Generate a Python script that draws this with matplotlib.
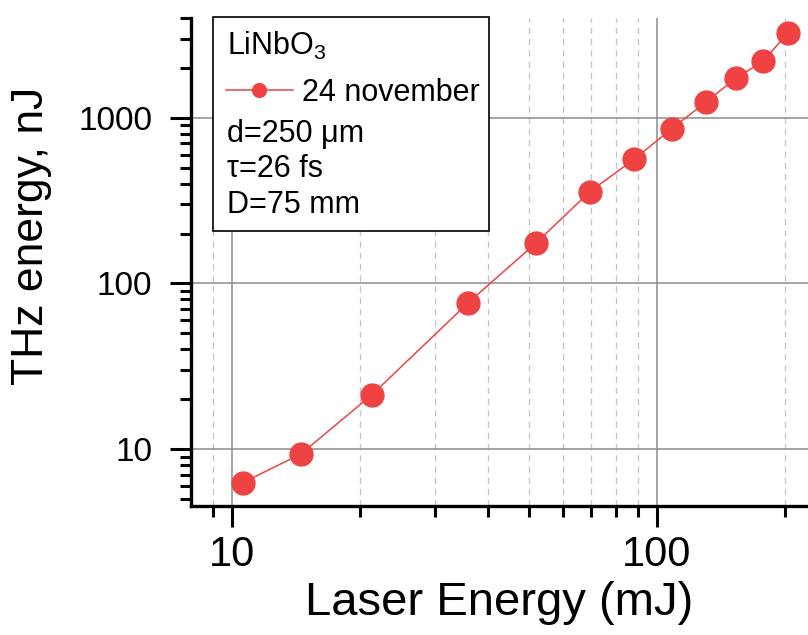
import numpy as np
import matplotlib
matplotlib.use("Agg")
import matplotlib.pyplot as plt
from matplotlib.ticker import FixedLocator, NullFormatter

plt.rcParams['font.family'] = ['Liberation Sans', 'DejaVu Sans']
plt.rcParams['mathtext.fontset'] = 'custom'
plt.rcParams['mathtext.rm'] = 'Liberation Sans'

# data
laser_mj = [10.6, 14.5, 21.3, 35.9, 52.0, 69.5, 88.3, 108.3, 130.2, 153.2, 177.7, 203.5]
thz_nj = [6.27, 9.33, 21.2, 76.2, 176, 358, 561, 858, 1241, 1726, 2194, 3254]

x_major = [10, 100]
x_minor = [9, 20, 30, 40, 50, 60, 70, 80, 90, 200]
y_major = [10, 100, 1000]
y_minor = [5, 6, 7, 8, 9, 20, 30, 40, 50, 60, 70, 80, 90,
           200, 300, 400, 500, 600, 700, 800, 900, 2000, 3000, 4000]

info_lines = ['d=250 \u03bcm', '\u03c4=26 fs', 'D=75 mm']

red = '#EF4343'

fig = plt.figure(figsize=(8.08, 6.35), dpi=100)
ax = fig.add_axes([0.2364, 0.2031, 0.7636, 0.7685])

ax.set_xscale('log')
ax.set_yscale('log')
ax.set_xlim(8.0, 226.8)
ax.set_ylim(4.53, 4000)

line, = ax.plot(laser_mj, thz_nj, color=red, lw=1.1, marker='o', ms=16.5,
                mec=red, mfc=red, zorder=3, label='24 november')

ax.xaxis.set_major_locator(FixedLocator(x_major))
ax.xaxis.set_minor_locator(FixedLocator(x_minor))
ax.yaxis.set_major_locator(FixedLocator(y_major))
ax.yaxis.set_minor_locator(FixedLocator(y_minor))
ax.set_xticklabels([str(v) for v in x_major])
ax.set_yticklabels([str(v) for v in y_major])
ax.xaxis.set_minor_formatter(NullFormatter())
ax.yaxis.set_minor_formatter(NullFormatter())

ax.grid(which='major', axis='both', color='#8c8c8c', lw=1.1, ls='-')
ax.grid(which='minor', axis='x', color='#c4c4c4', lw=0.9, ls=(0, (5, 4)))
ax.set_axisbelow(True)

for s in ['top', 'right']:
    ax.spines[s].set_visible(False)
for s in ['left', 'bottom']:
    ax.spines[s].set_linewidth(2.4)

ax.tick_params(which='major', direction='out', length=15, width=2.2, color='black')
ax.tick_params(which='minor', direction='out', length=8, width=2.2, color='black')
ax.tick_params(axis='x', which='major', pad=6, labelsize=30)
ax.tick_params(axis='y', which='major', pad=13, labelsize=24)

ax.set_xlabel('Laser Energy (mJ)', fontsize=34, labelpad=4)
ax.set_ylabel('THz energy, nJ', fontsize=32)
ax.yaxis.set_label_coords(-0.225, 0.553)

# legend-like box
box = plt.Rectangle((0.0361, 0.5641), 0.4474, 0.4373, transform=ax.transAxes,
                    fill=True, facecolor='white', edgecolor='black', lw=1.2,
                    zorder=4, clip_on=False)
ax.add_patch(box)

ax.text(0.0579, 0.9236, 'LiNbO$_\\mathregular{3}$', transform=ax.transAxes,
        fontsize=22, va='baseline', ha='left', zorder=5)

leg = ax.legend(handles=[line], loc='center left', bbox_to_anchor=(0.0562, 0.8469),
                bbox_transform=ax.transAxes, frameon=False, fontsize=22,
                markerscale=0.6, handlelength=2.2, handletextpad=0.3,
                borderpad=0, borderaxespad=0)
leg.set_zorder(6)

for txt, yb in zip(info_lines, [0.7465, 0.6742, 0.5998]):
    ax.text(0.0579, yb, txt, transform=ax.transAxes, fontsize=22,
            va='baseline', ha='left', zorder=5)

fig.savefig('out.png', dpi=100)
